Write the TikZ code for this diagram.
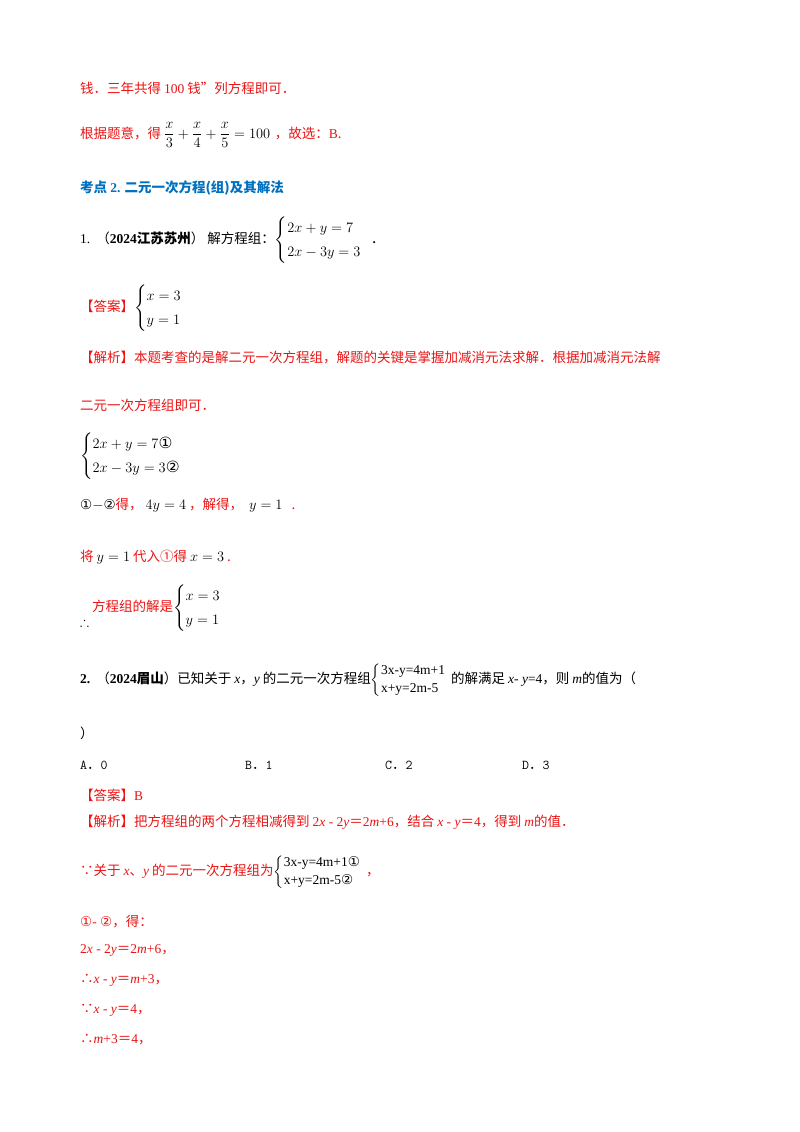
\documentclass[tikz,border=0pt]{standalone}
\usepackage{amsmath,amssymb}
\usepackage{fontspec}
\setmainfont{Liberation Serif}
\newfontfamily\cjk{Noto Sans CJK SC}
\newfontfamily\dv{DejaVu Sans}
\definecolor{rd}{RGB}{235,20,20}
\definecolor{bl}{RGB}{0,112,192}
\newcommand{\feq}{{\cjk ＝}}
\newcommand{\bm}[1]{{\fontsize{15.5}{18}\selectfont#1}}
\begin{document}
\begin{tikzpicture}[x=1pt,y=-1pt,
 t/.style={anchor=west,inner sep=0pt,font=\fontsize{13.5}{16}\selectfont\cjk},
 r/.style={t,text=rd}]
\useasboundingbox[fill=white] (0,0) rectangle (800,1132);
\node[r] (l1) at (80,88) {钱．三年共得 {\rmfamily 100} 钱”列方程即可．};
\node[r] (l2) at (80,135) {根据题意，得 {\color{black}\bm{$\dfrac{x}{3}+\dfrac{x}{4}+\dfrac{x}{5}=100$}}\,\,，故选：{\rmfamily B}.};
\node[t,text=bl,font=\fontsize{13.5}{16}\selectfont\cjk\bfseries] (h) at (80,188) {考点 {\rmfamily\bfseries 2.} 二元一次方程(组)及其解法};
\node[t] (p1) at (80,240) {{\rmfamily 1.}\ \ （{\rmfamily\bfseries 2024}\textbf{江苏苏州}）\ 解方程组：\bm{$\begin{cases}2x+y=7\\[2pt]2x-3y=3\end{cases}$\!\!.}};
\node[r] (a1) at (80,308) {【答案】{\color{black}\bm{$\begin{cases}x=3\\[2pt]y=1\end{cases}$}}};
\node[r] (j1) at (80,358) {【解析】本题考查的是解二元一次方程组，解题的关键是掌握加减消元法求解．根据加减消元法解};
\node[r] (j2) at (80,405) {二元一次方程组即可．};
\node[t] (s1) at (80,456) {\bm{$\begin{cases}2x+y=7\text{\dv ①}\\[2pt]2x-3y=3\text{\dv ②}\end{cases}$}};
\node[r] (s2) at (80,505) {{\color{black}\dv ①$-$②}得，\ {\color{black}$4y=4$}\ ，解得，\ \ {\color{black}\bm{$y=1$}}\ \ \ .};
\node[r] (s3) at (80,557) {将\ {\color{black}\bm{$y=1$}}\ 代入①得\ {\color{black}\bm{$x=3$}}\ .};
\node[t] (s4) at (80,622) {$\therefore$};
\node[r] (s5) at (92,608) {方程组的解是{\color{black}\bm{$\begin{cases}x=3\\[2pt]y=1\end{cases}$}}};
\node[t] (p2) at (80,680) {{\rmfamily\bfseries 2.}\ \ （{\rmfamily\bfseries 2024}\textbf{眉山}）已知关于 {\rmfamily\itshape x}，{\rmfamily\itshape y} 的二元一次方程组$\left\{\begin{array}{@{}l}\text{\rmfamily 3x-y=4m+1}\\[2pt]\text{\rmfamily x+y=2m-5}\end{array}\right.$的解满足 {\rmfamily\itshape x}{\rmfamily - }{\rmfamily\itshape y}{\rmfamily =4}，则 {\rmfamily\itshape m}的值为（};
\node[t] (p2b) at (80,733) {）};
\node[t,font=\fontsize{13.5}{16}\selectfont\ttfamily] (cA) at (80,765) {A{\cjk ．}0};
\node[t,font=\fontsize{13.5}{16}\selectfont\ttfamily] (cB) at (245,765) {B{\cjk ．}1};
\node[t,font=\fontsize{13.5}{16}\selectfont\ttfamily] (cC) at (385,765) {C{\cjk ．}2};
\node[t,font=\fontsize{13.5}{16}\selectfont\ttfamily] (cD) at (522,765) {D{\cjk ．}3};
\node[r] (a2) at (80,795) {【答案】{\rmfamily B}};
\node[r] (j3) at (80,822) {【解析】把方程组的两个方程相减得到 {\rmfamily 2\textit{x} - 2\textit{y}\feq 2\textit{m}+6}，结合 {\rmfamily\textit{x} - \textit{y}\feq 4}，得到 {\rmfamily\itshape m}的值．};
\node[r] (t1) at (80,872) {∵关于 {\rmfamily\itshape x}、{\rmfamily\itshape y} 的二元一次方程组为{\color{black}$\left\{\begin{array}{@{}l}\text{\rmfamily 3x-y=4m+1\dv ①}\\[2pt]\text{\rmfamily x+y=2m-5\dv ②}\end{array}\right.$}，};
\node[r] (t2) at (80,922) {{\dv ①}{\rmfamily - }{\dv ②}，得：};
\node[r,font=\fontsize{13.5}{16}\selectfont\rmfamily] (t3) at (80,950) {2\textit{x} - 2\textit{y}\feq 2\textit{m}+6{\cjk ，}};
\node[r,font=\fontsize{13.5}{16}\selectfont\rmfamily] (t4) at (80,980) {{\cjk ∴}\textit{x} - \textit{y}\feq\textit{m}+3{\cjk ，}};
\node[r,font=\fontsize{13.5}{16}\selectfont\rmfamily] (t5) at (80,1010) {{\cjk ∵}\textit{x} - \textit{y}\feq 4{\cjk ，}};
\node[r,font=\fontsize{13.5}{16}\selectfont\rmfamily] (t6) at (80,1040) {{\cjk ∴}\textit{m}+3\feq 4{\cjk ，}};
\end{tikzpicture}
\end{document}
